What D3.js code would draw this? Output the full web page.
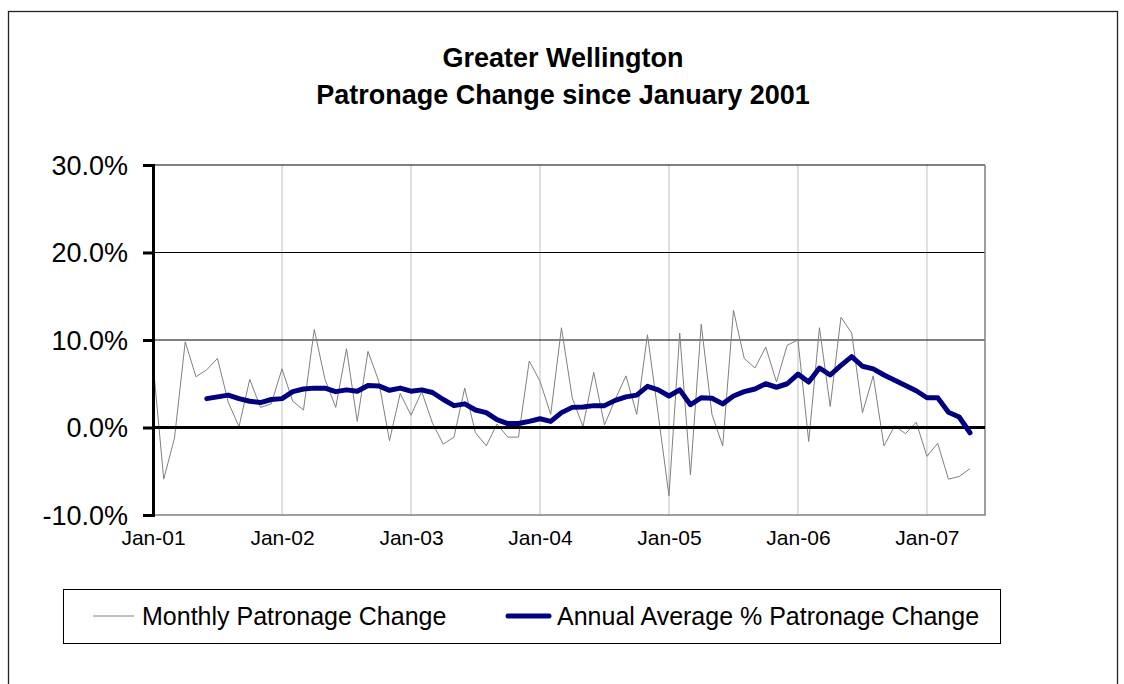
<!DOCTYPE html>
<html>
<head>
<meta charset="utf-8">
<script src="https://cdn.jsdelivr.net/npm/d3@7.9.0/dist/d3.min.js"></script>
<style>
  body { margin: 0; background: #fff; }
  svg { display: block; font-family: "Liberation Sans", Arial, sans-serif; }
</style>
</head>
<body>
<div id="chart"></div>
<script>
// monthly % change, Jan-01 .. May-07 (index = months since Jan 2001)
const monthly = [
  7.4, -5.9, -1.2, 9.8, 5.8, 6.6, 7.9, 2.9, 0.1, 5.5, 2.3, 2.7,
  6.7, 3.0, 2.0, 11.2, 5.5, 2.3, 9.0, 0.7, 8.7, 5.3, -1.5, 3.9,
  1.4, 4.1, 0.5, -1.9, -1.1, 4.5, -0.6, -2.1, 0.4, -1.1, -1.1, 7.6,
  5.3, 1.5, 11.4, 3.4, 0.1, 6.3, 0.3, 3.2, 5.9, 1.5, 10.6, 1.5,
  -7.8, 10.8, -5.4, 11.8, 1.5, -2.1, 13.4, 7.9, 6.8, 9.2, 5.2, 9.4,
  10.0, -1.6, 11.4, 2.4, 12.6, 10.8, 1.7, 5.9, -2.1, 0.2, -0.7, 0.6,
  -3.3, -1.8, -5.9, -5.6, -4.7
];

// annual average % change, starts Jun-01
const annualStart = 5;
const annual = [
  3.3, 3.5, 3.7, 3.3, 3.0, 2.85, 3.2,
  3.3, 4.1, 4.4, 4.5, 4.5, 4.1, 4.3, 4.15, 4.8, 4.75, 4.25, 4.5,
  4.15, 4.3, 4.0, 3.2, 2.5, 2.7, 2.0, 1.7, 0.9, 0.45, 0.45, 0.7,
  1.0, 0.7, 1.7, 2.3, 2.35, 2.5, 2.5, 3.1, 3.5, 3.7, 4.7, 4.3,
  3.6, 4.3, 2.6, 3.4, 3.35, 2.7, 3.6, 4.1, 4.4, 5.0, 4.6, 5.0,
  6.1, 5.2, 6.8, 6.0, 7.1, 8.1, 7.0, 6.7, 6.0, 5.4, 4.8, 4.2,
  3.4, 3.4, 1.75, 1.2, -0.6
];

const yTicks = [-10, 0, 10, 20, 30];
const xTickMonths = [0, 12, 24, 36, 48, 60, 72];
const xTickLabels = ["Jan-01", "Jan-02", "Jan-03", "Jan-04", "Jan-05", "Jan-06", "Jan-07"];
const titleLines = ["Greater Wellington", "Patronage Change since January 2001"];
const seriesNames = ["Monthly Patronage Change", "Annual Average % Patronage Change"];

const width = 1124;
const height = 684;

const plot = { left: 153, right: 985, top: 165, bottom: 515 };

const svg = d3.select("#chart")
  .append("svg")
  .attr("width", width)
  .attr("height", height);

// outer frame
svg.append("rect")
  .attr("x", 8.5).attr("y", 11.5)
  .attr("width", 1109).attr("height", 700)
  .attr("fill", "none")
  .attr("stroke", "#222")
  .attr("stroke-width", 1.3);

// title
svg.append("g")
  .selectAll("text")
  .data(titleLines)
  .join("text")
  .attr("x", 563)
  .attr("y", (d, i) => 67 + i * 37)
  .attr("text-anchor", "middle")
  .style("font-weight", "bold")
  .style("font-size", "27px")
  .text(d => d);

const xScale = d3.scaleLinear()
  .domain([0, 77.4])
  .range([plot.left, plot.right]);

const yScale = d3.scaleLinear()
  .domain([-10, 30])
  .range([plot.bottom, plot.top]);

// vertical gridlines
svg.append("g")
  .selectAll("line")
  .data(xTickMonths.slice(1))
  .join("line")
  .attr("x1", d => xScale(d)).attr("x2", d => xScale(d))
  .attr("y1", plot.top).attr("y2", plot.bottom)
  .attr("stroke", "#c0c0c0")
  .attr("stroke-width", 1);

// horizontal gridlines
svg.append("g")
  .selectAll("line")
  .data(yTicks.filter(d => d > 0))
  .join("line")
  .attr("x1", plot.left).attr("x2", plot.right)
  .attr("y1", d => yScale(d)).attr("y2", d => yScale(d))
  .attr("stroke", "#000")
  .attr("stroke-width", 1);

// plot border right / bottom
svg.append("path")
  .attr("d", `M${plot.left},${plot.bottom}H${plot.right}V${plot.top}`)
  .attr("fill", "none")
  .attr("stroke", "#808080")
  .attr("stroke-width", 1.5);

// monthly line
const line = d3.line()
  .x(d => xScale(d.i))
  .y(d => yScale(d.v));

svg.append("path")
  .datum(monthly.map((v, i) => ({ i, v })))
  .attr("d", line)
  .attr("fill", "none")
  .attr("stroke", "#808080")
  .attr("stroke-width", 1);

// zero line
svg.append("line")
  .attr("x1", plot.left).attr("x2", plot.right)
  .attr("y1", yScale(0)).attr("y2", yScale(0))
  .attr("stroke", "#000")
  .attr("stroke-width", 3);

// annual average line
svg.append("path")
  .datum(annual.map((v, i) => ({ i: i + annualStart, v })))
  .attr("d", line)
  .attr("fill", "none")
  .attr("stroke", "#000080")
  .attr("stroke-width", 5)
  .attr("stroke-linejoin", "round")
  .attr("stroke-linecap", "round");

// y axis
const yAxis = svg.append("g")
  .attr("transform", `translate(${plot.left},0)`)
  .call(d3.axisLeft(yScale)
    .tickValues(yTicks)
    .tickSize(10)
    .tickPadding(15)
    .tickFormat(d => d.toFixed(1) + "%"));

yAxis.select(".domain").attr("stroke", "#000").attr("stroke-width", 3);
yAxis.selectAll(".tick line").attr("stroke", "#000").attr("stroke-width", 3);
yAxis.selectAll(".tick text")
  .attr("fill", "#000")
  .style("font-size", "27px")
  .attr("dy", "0.35em");

// x axis labels
const xAxis = svg.append("g")
  .attr("transform", `translate(0,${plot.bottom})`)
  .call(d3.axisBottom(xScale)
    .tickValues(xTickMonths)
    .tickSize(0)
    .tickPadding(15)
    .tickFormat((d, i) => xTickLabels[i]));

xAxis.select(".domain").remove();
xAxis.selectAll(".tick text")
  .attr("fill", "#000")
  .style("font-size", "21px");

// legend
const legend = svg.append("g");
legend.append("rect")
  .attr("x", 63.5).attr("y", 589.5)
  .attr("width", 937).attr("height", 54)
  .attr("fill", "#fff")
  .attr("stroke", "#000")
  .attr("stroke-width", 1);

const legendItems = [
  { name: seriesNames[0], x: 93, color: "#808080", w: 1 },
  { name: seriesNames[1], x: 508, color: "#000080", w: 5 }
];

const li = legend.selectAll("g.item")
  .data(legendItems)
  .join("g")
  .attr("class", "item");

li.append("line")
  .attr("x1", d => d.x).attr("x2", d => d.x + 41)
  .attr("y1", 616).attr("y2", 616)
  .attr("stroke", d => d.color)
  .attr("stroke-width", d => d.w)
  .attr("stroke-linecap", d => d.w > 1 ? "round" : "butt");

li.append("text")
  .attr("x", d => d.x + 49)
  .attr("y", 625)
  .style("font-size", "25px")
  .text(d => d.name);
</script>
</body>
</html>
